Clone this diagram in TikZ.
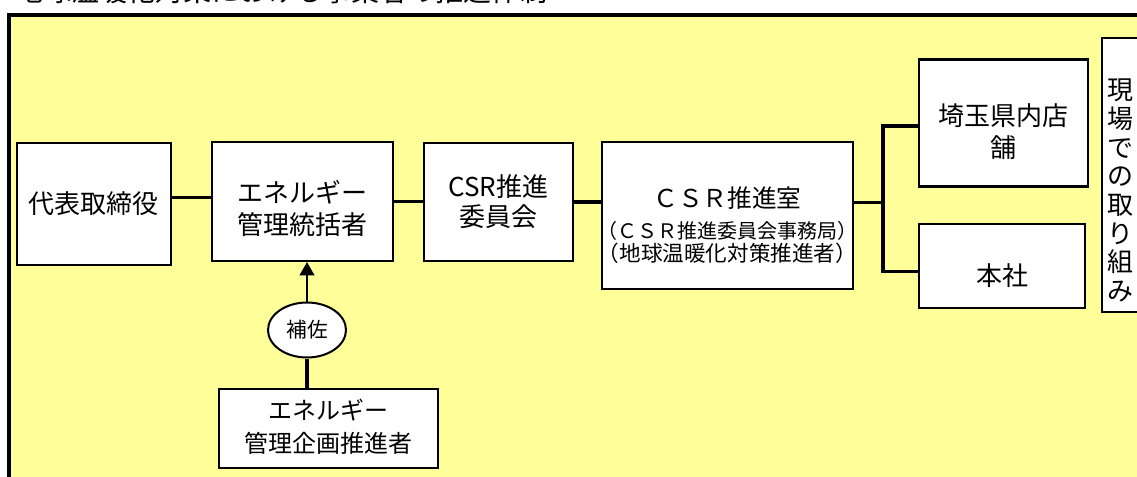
\documentclass[tikz,border=0pt]{standalone}
\usepackage{fontspec}
\setmainfont{Noto Sans CJK JP}
\usetikzlibrary{calc, arrows.meta, shapes.geometric}
\definecolor{fond}{HTML}{FFFF99}

\begin{document}
\begin{tikzpicture}[x=0.75pt, y=-0.75pt,
  box/.style={draw=black, line width=1.6pt, fill=white, inner sep=0pt},
  txt/.style={align=center, inner sep=0pt, font=\fontsize{19.5}{24}\selectfont},
  wire/.style={line width=2.3pt}]
  \useasboundingbox (0,0) rectangle (1137,477);
  % Titre (coupé en haut)
  \node[anchor=base west, inner sep=0pt, font=\fontsize{21}{24}\selectfont] (titre) at (15,1.5) {地球温暖化対策における事業者の推進体制};
  % Fond jaune
  \draw[line width=2.6pt, fill=fond] (9.2,15) rectangle (1170,510);
  % Boîtes
  \node[box, minimum width=115.5pt, minimum height=91.5pt] (daihyo) at (93.7,204) {};
  \node[txt] (daihyo-t) at (daihyo) {代表取締役};
  \node[box, minimum width=135.75pt, minimum height=89.25pt] (kanri) at (302.5,201.5) {};
  \node[txt] (kanri-t) at ($(kanri)+(0,7.5)$) {エネルギー\\管理統括者};
  \node[box, minimum width=111.75pt, minimum height=88.5pt] (iinkai) at (498.5,202) {};
  \node[txt, font=\fontsize{19.5}{22.5}\selectfont] (iinkai-t) at (iinkai) {CSR推進\\委員会};
  \node[box, minimum width=188.25pt, minimum height=110.25pt] (suishin) at (727.5,215.5) {};
  \node[anchor=base, inner sep=0pt, font=\fontsize{18.5}{20}\selectfont] (suishin-t1) at (727.5,207.5) {ＣＳＲ推進室};
  \node[anchor=base, inner sep=0pt, font=\fontsize{15}{17}\selectfont] (suishin-t2) at (727.5,238.5) {（ＣＳＲ推進委員会事務局）};
  \node[anchor=base, inner sep=0pt, font=\fontsize{16.2}{18}\selectfont] (suishin-t3) at (727.5,261.5) {（地球温暖化対策推進者）};
  \node[box, minimum width=126.75pt, minimum height=95.25pt] (saitama) at (1003.5,123) {};
  \node[txt] (saitama-t) at ($(saitama)+(0,9)$) {埼玉県内店\\舗};
  \node[box, minimum width=124.5pt, minimum height=63pt] (honsha) at (1002,266) {};
  \node[txt] (honsha-t) at ($(honsha)+(0,10)$) {本社};
  \node[box, minimum width=32.25pt, minimum height=205.5pt] (genba) at (1123.5,175) {};
  \node[txt, font=\fontsize{19.5}{21.5}\selectfont] (genba-t) at (1120,190.5) {現\\場\\で\\の\\取\\り\\組\\み};
  \node[box, ellipse, line width=1.5pt, minimum width=58.5pt, minimum height=41.25pt] (hosa) at (307,330) {};
  \node[txt, font=\fontsize{15.5}{18}\selectfont] (hosa-t) at (hosa) {補佐};
  \node[box, minimum width=164.25pt, minimum height=59.25pt] (kikaku) at (328.5,428.5) {};
  \node[txt, font=\fontsize{18}{24.75}\selectfont] (kikaku-t) at ($(kikaku)+(0,-2)$) {エネルギー\\管理企画推進者};
  % Liaisons
  \draw[wire] (daihyo.5) -- (daihyo.5 -| kanri.west);
  \draw[wire] (kanri.east) -- (kanri.east -| iinkai.west);
  \draw[wire] (iinkai.east) -- (iinkai.east -| suishin.west);
  \coordinate (fork) at (883,202);
  \draw[wire] (suishin.6) -- (suishin.6 -| fork);
  \draw[wire] (saitama.182) -| (fork) |- (honsha.184);
  \draw[line width=1.6pt, -{Triangle[length=10pt, width=11pt]}] (hosa.north) -- (hosa.north |- kanri.south);
  \draw[wire] (hosa.south) -- (hosa.south |- kikaku.north);
\end{tikzpicture}
\end{document}
